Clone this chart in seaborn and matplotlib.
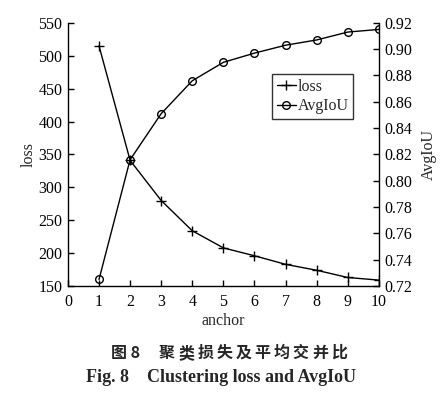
import numpy as np
import pandas as pd
import matplotlib
matplotlib.use("Agg")
import matplotlib.pyplot as plt
import seaborn as sns

anchor = [1, 2, 3, 4, 5, 6, 7, 8, 9, 10]
loss = [515, 341, 280, 234, 208, 196, 183, 174, 163, 159]
avg_iou = [0.725, 0.816, 0.851, 0.876, 0.890, 0.897, 0.903, 0.907, 0.913, 0.915]

caption_cn_label = "图 8"
caption_cn_title = "聚类损失及平均交并比"
caption_en = "Fig. 8    Clustering loss and AvgIoU"

sns.set_style("ticks")
plt.rcParams['font.family'] = ['Liberation Serif', 'DejaVu Serif']
plt.rcParams['mathtext.fontset'] = 'stix'

df = pd.DataFrame({"anchor": anchor, "loss": loss, "AvgIoU": avg_iou})

W, H = 441, 394
fig = plt.figure(figsize=(W / 100, H / 100), dpi=100)
ax = fig.add_axes([0.154, 0.274, 0.705, 0.668])
ax2 = ax.twinx()

sns.lineplot(data=df, x="anchor", y="loss", ax=ax, color="black", marker="+",
             markersize=7, markeredgewidth=1.0, markeredgecolor="black",
             linewidth=1.0, label="loss", legend=False)
sns.lineplot(data=df, x="anchor", y="AvgIoU", ax=ax2, color="black", marker="o",
             markersize=5.5, markerfacecolor="none", markeredgecolor="black",
             markeredgewidth=1.0, linewidth=1.0, label="AvgIoU", legend=False)

ax.set_xlim(0, 10)
ax.set_ylim(150, 550)
ax2.set_ylim(0.72, 0.92)
ax.set_xticks(range(0, 11))
ax.set_yticks(range(150, 551, 50))
ax2.set_yticks(np.arange(0.72, 0.9201, 0.02))
ax2.set_yticklabels([f"{v:.2f}" for v in np.arange(0.72, 0.9201, 0.02)])

for a in (ax, ax2):
    a.tick_params(direction="in", length=4, width=1.0, labelsize=11.5, colors="black", pad=4)
    a.spines["top"].set_visible(False)
    for s in a.spines.values():
        s.set_linewidth(1.0)
        s.set_color("black")
ax.tick_params(axis="x", pad=6)
ax.spines["right"].set_visible(False)
ax2.spines["left"].set_visible(False)
ax2.spines["bottom"].set_visible(False)
ax2.spines["right"].set_visible(True)

ax.set_xlabel("anchor", fontsize=11.5, labelpad=2)
ax.set_ylabel("loss", fontsize=11.5, labelpad=1)
ax2.set_ylabel("AvgIoU", fontsize=11.5, labelpad=6)

h1, l1 = ax.get_legend_handles_labels()
h2, l2 = ax2.get_legend_handles_labels()
leg = ax2.legend(h1 + h2, l1 + l2, loc="upper right", bbox_to_anchor=(0.918, 0.805),
                 frameon=True, fancybox=False, edgecolor="black", fontsize=11.5,
                 handlelength=1.2, handletextpad=0.1, borderpad=0.3, labelspacing=0.2,
                 borderaxespad=0.0)
leg.get_frame().set_linewidth(1.0)

cn_font = dict(fontsize=11.5, fontweight="bold", family=["Noto Sans CJK SC", "DejaVu Sans"],
               va="center", ha="center")
ycn = 1 - 353 / H
fig.text(111 / W, ycn, caption_cn_label, **{**cn_font, "ha": "left"})
for i, ch in enumerate(caption_cn_title):
    fig.text((167 + 19.1 * i) / W, ycn, ch, **cn_font)
fig.text(0.5, 1 - 377 / H, caption_en, ha="center", va="center",
         fontsize=13, fontweight="bold", family=["Liberation Serif", "DejaVu Serif"])

fig.savefig("out.png", dpi=100)
